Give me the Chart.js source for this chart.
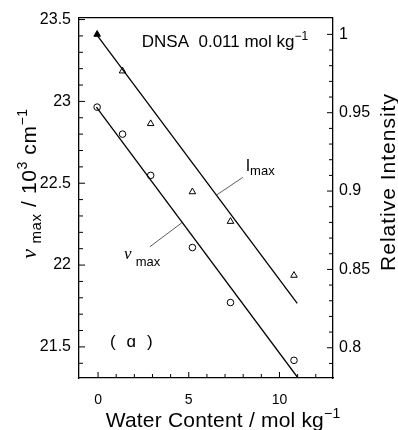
<!DOCTYPE html>
<html><head><meta charset="utf-8">
<script src="https://cdn.jsdelivr.net/npm/chart.js@4/dist/chart.umd.min.js"></script>
<style>html,body{margin:0;padding:0;background:#fff}#wrap{width:398px;height:430px}</style>
</head><body><div id="wrap"><canvas id="c" width="398" height="430"></canvas></div>
<script>
// ---- data ----
const water = [-0.05, 1.35, 2.9, 5.2, 7.3, 10.8];            // mol kg^-1
const nuMax = [22.965, 22.80, 22.548, 22.107, 21.771, 21.418]; // 10^3 cm^-1
const relIntensity = [1.0, 0.9766, 0.943, 0.8995, 0.8806, 0.8462];
const nuFitX = [-0.09, 11.02];
const nuFitY = [22.965, 21.31];
const iFitX = [-0.09, 10.98];
const iFitY = [1.0, 0.8283];
const xTickLabels = [0, 5, 10];
const leftTickLabels = [21.5, 22, 22.5, 23, 23.5];
const rightTickLabels = [0.8, 0.85, 0.9, 0.95, 1];

const FONT = "'Liberation Sans', Arial, sans-serif";
const SERIF = "'Liberation Serif', 'Times New Roman', serif";

function pts(xs, ys){ return xs.map((v,i)=>({x:v, y:ys[i]})); }

function drawRuns(ctx, x, y, runs, ls){
  ctx.letterSpacing = (ls||0)+'px';
  let cx = x;
  for (const r of runs){
    ctx.font = r.font;
    ctx.fillText(r.t, cx, y + (r.dy||0));
    cx += ctx.measureText(r.t).width;
  }
  ctx.letterSpacing = '0px';
}
function runsWidth(ctx, runs, ls){
  ctx.letterSpacing = (ls||0)+'px';
  let w = 0;
  for (const r of runs){ ctx.font = r.font; w += ctx.measureText(r.t).width; }
  ctx.letterSpacing = '0px';
  return w;
}

const annot = {
  dnsa: [2.41, 23.33],
  iMax: [8.135, 22.573],
  nuMax: [1.425, 22.039],
  panel: [0.655, 21.50],
  iLeader: [[6.52, 22.427], [7.98, 22.536]],
  nuLeader: [[2.855, 22.112], [4.615, 22.258]]
};

const decor = {
  id: 'decor',
  afterDraw(chart){
    const {ctx, chartArea: a, scales: {x, y, y2}} = chart;
    ctx.save();
    ctx.strokeStyle = '#000'; ctx.fillStyle = '#000';
    // top frame line
    ctx.lineWidth = 1.3;
    ctx.beginPath(); ctx.moveTo(a.left, a.top); ctx.lineTo(a.right, a.top); ctx.stroke();
    // inward ticks
    ctx.lineWidth = 1;
    ctx.beginPath();
    for (let v = 0; v <= 12; v++){
      const px = x.getPixelForValue(v);
      const L = v % 5 === 0 ? 6 : 4;
      ctx.moveTo(px, a.bottom); ctx.lineTo(px, a.bottom - L);
    }
    for (let k = 214; k <= 235; k++){
      const py = y.getPixelForValue(k/10);
      if (py < a.top + 1) continue;
      const L = k % 5 === 0 ? 6 : 4;
      ctx.moveTo(a.left, py); ctx.lineTo(a.left + L, py);
    }
    for (let k = 79; k <= 100; k++){
      const py = y2.getPixelForValue(k/100);
      const L = k % 5 === 0 ? 6 : 4;
      ctx.moveTo(a.right, py); ctx.lineTo(a.right - L, py);
    }
    ctx.stroke();

    // leader lines
    ctx.lineWidth = 0.8; ctx.strokeStyle = '#333';
    for (const ld of [annot.iLeader, annot.nuLeader]){
      ctx.beginPath();
      ctx.moveTo(x.getPixelForValue(ld[0][0]), y.getPixelForValue(ld[0][1]));
      ctx.lineTo(x.getPixelForValue(ld[1][0]), y.getPixelForValue(ld[1][1]));
      ctx.stroke();
    }

    ctx.textBaseline = 'alphabetic'; ctx.textAlign = 'left';
    // DNSA label
    drawRuns(ctx, x.getPixelForValue(annot.dnsa[0]), y.getPixelForValue(annot.dnsa[1]), [
      {t:'DNSA  0.011 mol kg', font:'17px '+FONT},
      {t:'\u22121', font:'12px '+FONT, dy:-7}
    ], 0);
    // I_max
    drawRuns(ctx, x.getPixelForValue(annot.iMax[0]), y.getPixelForValue(annot.iMax[1]), [
      {t:'I', font:'16px '+FONT},
      {t:'max', font:'13px '+FONT, dy:4}
    ], 0);
    // nu_max
    drawRuns(ctx, x.getPixelForValue(annot.nuMax[0]), y.getPixelForValue(annot.nuMax[1]), [
      {t:'\u03BD ', font:'italic 17px '+SERIF},
      {t:'max', font:'13px '+FONT, dy:7}
    ], 0);
    // (a)
    drawRuns(ctx, x.getPixelForValue(annot.panel[0]), y.getPixelForValue(annot.panel[1]), [
      {t:'(  \u0251  )', font:'17px '+FONT}
    ], 0.5);

    // bottom axis title
    const bRuns = [{t:'Water Content / mol kg', font:'21px '+FONT}, {t:'\u22121', font:'14px '+FONT, dy:-9}];
    const bw = runsWidth(ctx, bRuns, 0.2);
    drawRuns(ctx, 223 - bw/2, 427, bRuns, 0.2);

    // left axis title (rotated)
    const lRuns = [
      {t:'\u03BD', font:'italic 22px '+SERIF},
      {t:' max', font:'15px '+FONT, dy:5},
      {t:' / 10', font:'21px '+FONT},
      {t:'3', font:'14px '+FONT, dy:-9},
      {t:' cm', font:'21px '+FONT},
      {t:'\u22121', font:'14px '+FONT, dy:-9}
    ];
    ctx.save();
    ctx.translate(35.5, 183.5); ctx.rotate(-Math.PI/2);
    const lw = runsWidth(ctx, lRuns, 0.6);
    drawRuns(ctx, -lw/2, 0, lRuns, 0.6);
    ctx.restore();

    // right axis title (rotated)
    ctx.save();
    ctx.translate(395, 182); ctx.rotate(-Math.PI/2);
    const rRuns = [{t:'Relative Intensity', font:'21px '+FONT}];
    const rw = runsWidth(ctx, rRuns, 1.0);
    drawRuns(ctx, -rw/2, 0, rRuns, 1.0);
    ctx.restore();

    ctx.restore();
  }
};

const fixTicks = arr => s => { s.ticks = arr.map(v => ({value: v})); };

new Chart(document.getElementById('c'), {
  type: 'scatter',
  data: {
    datasets: [
      { label: 'nu fit', type: 'line', data: pts(nuFitX, nuFitY), yAxisID: 'y',
        borderColor: '#000', borderWidth: 1.3, pointRadius: 0, fill: false, tension: 0 },
      { label: 'I fit', type: 'line', data: pts(iFitX, iFitY), yAxisID: 'y2',
        borderColor: '#000', borderWidth: 1.3, pointRadius: 0, fill: false, tension: 0 },
      { label: 'nu max', data: pts(water, nuMax), yAxisID: 'y',
        pointStyle: 'circle', pointRadius: 3.3, borderColor: '#000', borderWidth: 1,
        backgroundColor: '#fff' },
      { label: 'Relative Intensity', data: pts(water, relIntensity), yAxisID: 'y2',
        pointStyle: 'triangle', pointRadius: 3.8, borderColor: '#000', borderWidth: 1,
        backgroundColor: ['#000', '#fff', '#fff', '#fff', '#fff', '#fff'] }
    ]
  },
  options: {
    responsive: false, animation: false, devicePixelRatio: 1,
    layout: { padding: { top: 15, left: 0, right: 0, bottom: 0 } },
    plugins: { legend: { display: false }, tooltip: { enabled: false } },
    scales: {
      x: {
        type: 'linear', position: 'bottom', min: -1.05, max: 12.95,
        afterBuildTicks: fixTicks(xTickLabels),
        afterFit: s => { s.height = 52; },
        grid: { display: false, drawTicks: false },
        border: { display: true, color: '#000', width: 1.3 },
        ticks: { callback: v => String(v), color: '#000', font: { family: FONT, size: 14 },
                 padding: 14, maxRotation: 0, autoSkip: false }
      },
      y: {
        type: 'linear', position: 'left', min: 21.31, max: 23.512,
        afterBuildTicks: fixTicks(leftTickLabels),
        afterFit: s => { s.width = 79; },
        grid: { display: false, drawTicks: false },
        border: { display: true, color: '#000', width: 1.3 },
        ticks: { callback: v => String(v), color: '#000', font: { family: FONT, size: 16 },
                 padding: 8, autoSkip: false }
      },
      y2: {
        type: 'linear', position: 'right', min: 0.7807, max: 1.0107,
        afterBuildTicks: fixTicks(rightTickLabels),
        afterFit: s => { s.width = 65; },
        grid: { display: false, drawTicks: false },
        border: { display: true, color: '#000', width: 1.3 },
        ticks: { callback: v => String(v), color: '#000', font: { family: FONT, size: 16 },
                 padding: 6, autoSkip: false }
      }
    }
  },
  plugins: [decor]
});
</script></body></html>
